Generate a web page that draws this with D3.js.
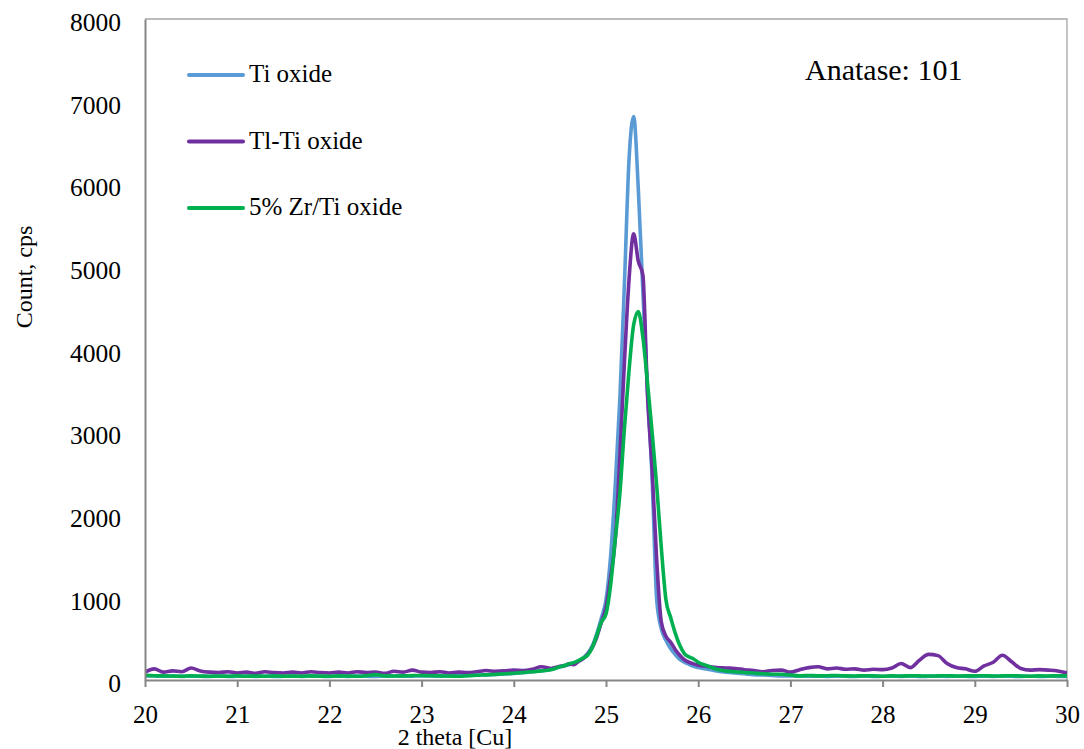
<!DOCTYPE html>
<html>
<head>
<meta charset="utf-8">
<script src="https://cdn.jsdelivr.net/npm/d3@7"></script>
<style>
  html, body { margin: 0; padding: 0; background: #fff; }
  svg text { font-family: "Liberation Serif", "Times New Roman", serif; fill: #000; }
</style>
</head>
<body>
<svg id="chart" width="1084" height="749"></svg>
<script>
// 2 theta angles (degrees)
const theta = [
  20.0, 20.1, 20.2, 20.3, 20.4, 20.5, 20.6, 20.7, 20.8, 20.9,
  21.0, 21.1, 21.2, 21.3, 21.4, 21.5, 21.6, 21.7, 21.8, 21.9,
  22.0, 22.1, 22.2, 22.3, 22.4, 22.5, 22.6, 22.7, 22.8, 22.9,
  23.0, 23.1, 23.2, 23.3, 23.4, 23.5, 23.6, 23.7, 23.8, 23.9,
  24.0, 24.1, 24.2, 24.3, 24.4,
  24.45, 24.5, 24.55, 24.6, 24.65, 24.7, 24.75, 24.8, 24.85, 24.9,
  24.95, 25.0, 25.05, 25.1, 25.15, 25.2, 25.25, 25.3, 25.35, 25.4,
  25.45, 25.5, 25.55, 25.6, 25.65, 25.7, 25.75, 25.8, 25.85, 25.9,
  25.95, 26.0,
  26.1, 26.2, 26.3, 26.4, 26.5, 26.6, 26.7, 26.8, 26.9,
  27.0, 27.1, 27.2, 27.3, 27.4, 27.5, 27.6, 27.7, 27.8, 27.9,
  28.0, 28.1, 28.2, 28.3, 28.4, 28.5, 28.6, 28.7, 28.8, 28.9,
  29.0, 29.1, 29.2, 29.3, 29.4, 29.5, 29.6, 29.7, 29.8, 29.9,
  30.0
];

// counts (cps)
const tiOxide = [
  50, 48, 45, 47, 44, 46, 45, 43, 46, 44, 45, 47, 44, 46, 43, 45, 47, 44, 46, 45,
  43, 46, 44, 47, 45, 44, 46, 48, 45, 47, 50, 48, 46, 48, 52, 55, 58, 62, 66, 72,
  80, 88, 100, 112, 128,
  145, 160, 170, 185, 200, 225, 265, 320, 410, 560, 750, 970, 1500, 2350, 3400, 4800,
  6300, 6820, 5950, 4700, 3500, 2450, 970, 620, 480, 380, 310, 250, 215, 190, 165, 150,
  130, 110, 95, 85, 75, 65, 60, 55, 50, 50, 48, 45, 47, 44, 46, 45, 43, 46, 44, 45,
  47, 44, 46, 43, 45, 47, 44, 46, 45, 43, 46, 44, 47, 45, 44, 46, 43, 45, 44, 42
];

const tlTiOxide = [
  95, 135, 95, 110, 100, 145, 110, 95, 90, 100, 85, 95, 80, 100, 90, 85, 95, 85, 100, 90,
  85, 95, 85, 100, 90, 95, 80, 105, 95, 120, 95, 90, 100, 85, 95, 90, 100, 115, 105, 110,
  120, 115, 130, 160, 140,
  150, 165, 175, 195, 185, 225, 255, 310, 390, 520, 700, 880, 1250, 1700, 2700, 3850,
  4850, 5400, 5070, 4900, 3450, 2550, 1450, 700, 530, 460, 370, 300, 245, 215, 195, 180,
  165, 150, 145, 140, 125, 115, 100, 115, 120, 95, 125, 150, 160, 135, 145, 130, 135, 120, 130, 125,
  145, 200, 150, 240, 310, 295, 200, 150, 135, 105, 170, 215, 300, 220, 140, 120, 125, 120, 110, 85
];

const zrTiOxide = [
  58, 52, 50, 48, 45, 50, 47, 45, 48, 45, 50, 45, 48, 45, 50, 46, 48, 45, 50, 47,
  45, 50, 48, 45, 52, 65, 50, 48, 50, 53, 55, 52, 50, 48, 45, 52, 58, 62, 68, 75,
  82, 90, 100, 110, 125,
  140, 160, 175, 195, 210, 235, 265, 300, 390, 540, 700, 800, 1150, 1700, 2250, 3050,
  3750, 4300, 4460, 4150, 3600, 3000, 2350, 1600, 970, 760, 570, 420, 320, 280, 255, 215,
  170, 130, 110, 100, 90, 85, 75, 70, 70, 60, 50, 55, 50, 52, 55, 50, 48, 52, 50, 45,
  50, 48, 52, 50, 48, 50, 52, 48, 50, 50, 52, 48, 50, 52, 48, 45, 50, 48, 52, 50
];

const seriesNames = ["Ti oxide", "Tl-Ti oxide", "5% Zr/Ti oxide"];
const seriesColors = ["#5b9bd5", "#7030a0", "#00b050"];
const xTicks = [20, 21, 22, 23, 24, 25, 26, 27, 28, 29, 30];
const yTicks = [0, 1000, 2000, 3000, 4000, 5000, 6000, 7000, 8000];

const serif = '"Liberation Serif", "Times New Roman", serif';
const plot = { left: 145, right: 1067, top: 19, bottom: 680 };
const svg = d3.select("#chart");

svg.append("rect").attr("width", 1084).attr("height", 749).attr("fill", "#fff");

const x = d3.scaleLinear().domain([20, 30]).range([plot.left, plot.right]);
const y = d3.scaleLinear().domain([0, 8000]).range([plot.bottom, plot.top]);

// top and right frame
svg.append("path")
  .attr("d", `M${plot.left},${plot.top}H${plot.right}V${plot.bottom}`)
  .attr("fill", "none")
  .attr("stroke", "#a6a6a6")
  .attr("stroke-width", 1.3);

// clip for the curves
svg.append("clipPath").attr("id", "clip")
  .append("rect")
  .attr("x", plot.left).attr("y", plot.top - 5)
  .attr("width", plot.right - plot.left).attr("height", plot.bottom - plot.top + 5);

const line = d3.line()
  .x((d, i) => x(theta[i]))
  .y(d => y(d))
  .curve(d3.curveMonotoneX);

const allSeries = [tiOxide, tlTiOxide, zrTiOxide];

svg.append("g").attr("clip-path", "url(#clip)")
  .selectAll("path")
  .data(allSeries)
  .enter()
  .append("path")
  .attr("d", d => line(d))
  .attr("fill", "none")
  .attr("stroke", (d, i) => seriesColors[i])
  .attr("stroke-width", 3.6)
  .attr("stroke-linejoin", "round")
  .attr("stroke-linecap", "round");

// x axis
const xAxis = svg.append("g")
  .attr("transform", `translate(0,${plot.bottom})`)
  .call(d3.axisBottom(x).tickValues(xTicks).tickFormat(d3.format("d"))
    .tickSize(7).tickSizeOuter(0).tickPadding(18));
xAxis.select(".domain").attr("stroke", "#868686").attr("stroke-width", 2);
xAxis.selectAll(".tick line").attr("stroke", "#868686").attr("stroke-width", 2);
xAxis.selectAll(".tick text")
  .style("font-family", serif)
  .style("font-size", "25px")
  .style("fill", "#000");

// y axis
const yAxis = svg.append("g")
  .attr("transform", `translate(${plot.left},0)`)
  .call(d3.axisLeft(y).tickValues(yTicks).tickFormat(d3.format("d"))
    .tickSize(0).tickSizeOuter(0).tickPadding(24));
yAxis.select(".domain").attr("stroke", "#868686").attr("stroke-width", 2);
yAxis.selectAll(".tick text")
  .style("font-family", serif)
  .style("font-size", "25.5px")
  .style("fill", "#000")
  .attr("dy", "0.46em");

// axis titles
svg.append("text")
  .attr("x", 455).attr("y", 745)
  .attr("text-anchor", "middle")
  .style("font-family", serif)
  .style("font-size", "24px")
  .text("2 theta [Cu]");

svg.append("text")
  .attr("transform", "translate(32,277) rotate(-90)")
  .attr("text-anchor", "middle")
  .style("font-family", serif)
  .style("font-size", "24px")
  .text("Count, cps");

// legend
const legend = svg.append("g");
seriesNames.forEach((name, i) => {
  const ly = 75 + i * 66.5;
  legend.append("line")
    .attr("x1", 189).attr("x2", 243)
    .attr("y1", ly).attr("y2", ly)
    .attr("stroke", seriesColors[i])
    .attr("stroke-width", 4)
    .attr("stroke-linecap", "round");
  legend.append("text")
    .attr("x", 249).attr("y", ly + 7)
    .style("font-family", serif)
    .style("font-size", "25px")
    .text(name);
});

// annotation
svg.append("text")
  .attr("x", 805).attr("y", 80)
  .style("font-family", serif)
  .style("font-size", "30px")
  .text("Anatase: 101");
</script>
</body>
</html>
